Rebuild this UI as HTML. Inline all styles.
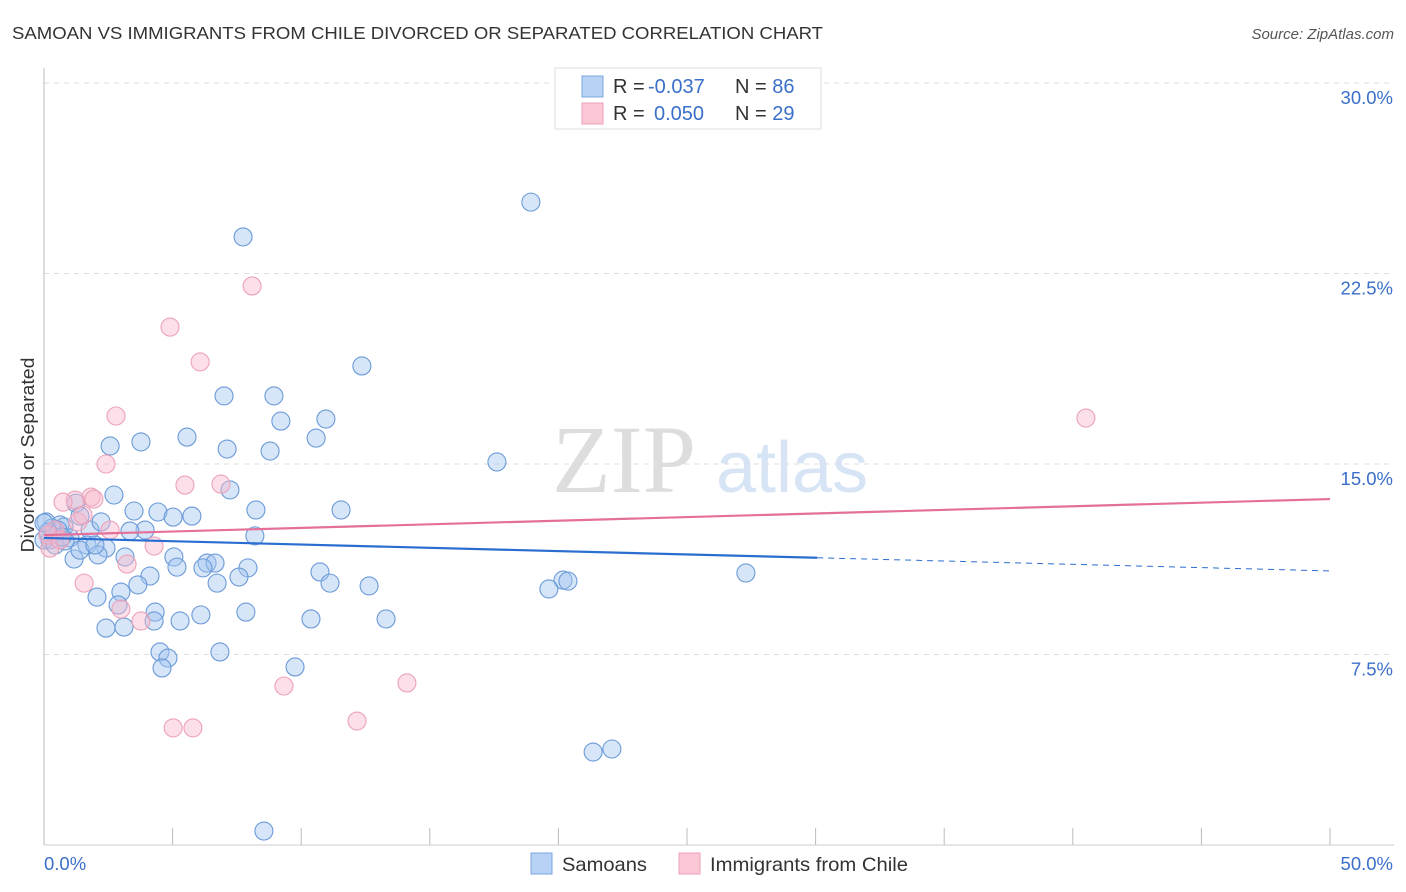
<!DOCTYPE html>
<html><head><meta charset="utf-8"><style>
body{margin:0;background:#fff;font-family:"Liberation Sans",sans-serif}
svg{display:block}
</style></head><body>
<svg id="chart" width="1406" height="892" xmlns="http://www.w3.org/2000/svg">
<text x="12" y="39" font-size="17.5" fill="#333" textLength="811" lengthAdjust="spacingAndGlyphs">SAMOAN VS IMMIGRANTS FROM CHILE DIVORCED OR SEPARATED CORRELATION CHART</text>
<text x="1394" y="39" font-size="15" fill="#555" text-anchor="end" font-style="italic">Source: ZipAtlas.com</text>
<g>
<text x="552" y="492" font-size="96" fill="#ddd" font-family="Liberation Serif,serif">ZIP</text>
<text x="716" y="492" font-size="72" fill="#d6e4f5">atlas</text>
</g>
<g id="grid"></g>
<g id="axes"></g>
<g id="marks"></g>
<g id="trends"></g>
<text transform="translate(34,455) rotate(-90)" font-size="18" fill="#333" text-anchor="middle" textLength="195" lengthAdjust="spacingAndGlyphs">Divorced or Separated</text>
<g>
<rect x="555" y="68" width="266" height="61" fill="#fff" stroke="#ddd"/>
<rect x="582" y="76" width="21" height="21" fill="#b8d2f5" stroke="#7aa6e0"/>
<rect x="582" y="103" width="21" height="21" fill="#fcc8d6" stroke="#ee9fb8"/>
<text x="613" y="93" font-size="20" fill="#333">R = <tspan fill="#3a6fc9" x="648">-0.037</tspan><tspan x="735">N = </tspan><tspan fill="#3a6fc9">86</tspan></text>
<text x="613" y="120" font-size="20" fill="#333">R = <tspan fill="#3a6fc9" x="654">0.050</tspan><tspan x="735">N = </tspan><tspan fill="#3a6fc9">29</tspan></text>
</g>
<g>
<rect x="531" y="853" width="21" height="21" fill="#b8d2f5" stroke="#7aa6e0"/>
<text x="562" y="871" font-size="19.5" fill="#333" textLength="85" lengthAdjust="spacingAndGlyphs">Samoans</text>
<rect x="679" y="853" width="21" height="21" fill="#fcc8d6" stroke="#ee9fb8"/>
<text x="710" y="871" font-size="19.5" fill="#333" textLength="198" lengthAdjust="spacingAndGlyphs">Immigrants from Chile</text>
</g>
</svg>
<script>
const yTicks=[7.5,15,22.5,30];
const yTickLabels=["7.5%","15.0%","22.5%","30.0%"];
const xTickLabels=["0.0%","50.0%"];
const samoanX=[18.93,7.74,12.36,7.00,8.94,9.21,10.96,5.56,10.58,2.57,3.77,7.12,8.79,17.61,7.23,2.72,8.24,11.55,3.50,4.43,5.02,5.75,1.24,1.40,0.62,0.08,0.78,1.79,2.22,3.93,3.34,8.20,0.23,1.01,1.67,2.41,2.10,3.15,5.05,6.34,6.65,5.17,7.93,6.18,10.73,4.12,7.58,1.17,6.73,11.12,12.64,3.65,20.18,20.37,19.63,27.29,2.99,2.06,4.32,7.85,2.88,6.10,5.29,10.38,13.30,4.28,2.41,3.11,4.51,4.82,4.59,6.84,9.76,21.35,22.08,8.55,0.0,0.43,0.82,0.54,0.31,0.70,0.16,0.0,1.40,1.98];
const samoanY=[25.31,23.94,18.86,17.68,17.68,16.69,16.77,16.06,16.02,15.71,15.87,15.59,15.51,15.08,13.98,13.78,13.19,13.19,13.15,13.11,12.91,12.95,13.46,12.95,12.60,12.72,12.52,12.40,12.72,12.40,12.36,12.17,12.01,12.09,11.81,11.69,11.42,11.34,11.34,11.10,11.10,10.94,10.91,10.91,10.75,10.59,10.55,11.26,10.31,10.31,10.20,10.24,10.43,10.39,10.08,10.71,9.96,9.76,9.17,9.17,9.45,9.06,8.82,8.90,8.90,8.82,8.54,8.58,7.60,7.36,6.97,7.60,7.01,3.66,3.78,0.55,12.01,11.81,11.97,12.40,12.48,12.13,12.32,12.68,11.61,11.81];
const chileX=[8.09,4.90,6.07,2.80,2.41,5.48,6.88,1.83,1.21,0.74,1.94,1.32,2.57,1.52,0.43,0.23,4.28,3.23,1.56,2.99,3.77,9.33,14.11,12.17,5.02,5.79,40.51,0.16,0.62];
const chileY=[22.01,20.39,19.02,16.89,15.00,14.17,14.21,13.70,13.58,13.50,13.62,12.72,12.40,12.99,12.40,11.69,11.77,11.06,10.31,9.29,8.82,6.26,6.38,4.88,4.61,4.61,16.81,12.20,12.01];
const samoanTrend=[12.09,10.79];
const samoanSolidEnd=30.06;
const chileTrend=[12.20,13.62];

const NS="http://www.w3.org/2000/svg";
const X=v=>44+v*25.72, Y=v=>845-v*25.4;
function mk(tag,attrs,parent){const e=document.createElementNS(NS,tag);for(const k in attrs)e.setAttribute(k,attrs[k]);parent.appendChild(e);return e;}
const grid=document.getElementById('grid'),axes=document.getElementById('axes'),marks=document.getElementById('marks'),trends=document.getElementById('trends');
yTicks.forEach((t,i)=>{
  const l=mk('line',{x1:44,x2:1394,y1:Y(t),y2:Y(t),stroke:'#ddd','stroke-dasharray':'5,5'},grid);
  
  
  const tx=mk('text',{x:1393,y:Y(t)+21,'font-size':18.5,fill:'#3a6fc9','text-anchor':'end'},axes);
  tx.textContent=yTickLabels[i];
  
  
});
const ax=mk('line',{x1:44,x2:44,y1:68,y2:845,stroke:'#bbb'},axes);


const bx=mk('line',{x1:44,x2:1394,y1:845,y2:845,stroke:'#ccc'},axes);


for(let i=1;i<=10;i++){
  const t=mk('line',{x1:X(i*5),x2:X(i*5),y1:828,y2:845,stroke:'#bbb'},axes);
  
  
}
const xl0=mk('text',{x:44,y:870,'font-size':18.5,fill:'#3a6fc9'},axes);xl0.textContent=xTickLabels[0];


const xl1=mk('text',{x:1393,y:870,'font-size':18.5,fill:'#3a6fc9','text-anchor':'end'},axes);xl1.textContent=xTickLabels[1];


samoanX.forEach((v,i)=>{
  const c=mk('circle',{cx:X(v),cy:Y(samoanY[i]),r:9,fill:'rgba(165,198,240,0.45)',stroke:'#6a9ad8','stroke-width':1.1},marks);
  
  
});
chileX.forEach((v,i)=>{
  const c=mk('circle',{cx:X(v),cy:Y(chileY[i]),r:9,fill:'rgba(248,185,205,0.45)',stroke:'#eca2b9','stroke-width':1.1},marks);
  
  
});
const sy=x=>samoanTrend[0]+(samoanTrend[1]-samoanTrend[0])*x/50;
const s1=mk('line',{x1:X(0),y1:Y(sy(0)),x2:X(samoanSolidEnd),y2:Y(sy(samoanSolidEnd)),stroke:'#2a6dd0','stroke-width':2.2},trends);


const s2=mk('line',{x1:X(samoanSolidEnd),y1:Y(sy(samoanSolidEnd)),x2:X(50),y2:Y(sy(50)),stroke:'#2a6dd0','stroke-width':1,'stroke-dasharray':'6,5'},trends);


const p1=mk('line',{x1:X(0),y1:Y(chileTrend[0]),x2:X(50),y2:Y(chileTrend[1]),stroke:'#e4709a','stroke-width':2.2},trends);


</script>
</body></html>
